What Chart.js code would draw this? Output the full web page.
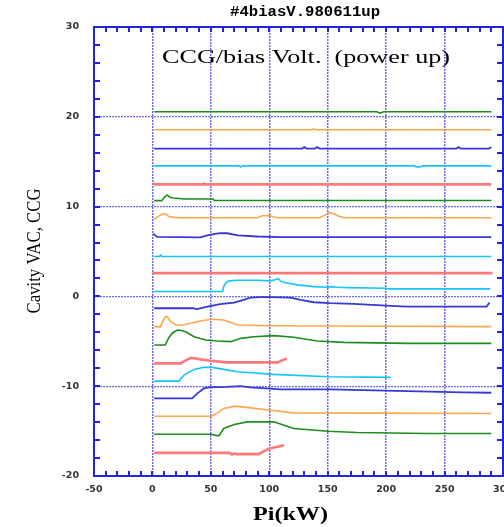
<!DOCTYPE html>
<html><head><meta charset="utf-8">
<script src="https://cdn.jsdelivr.net/npm/chart.js@4.4.0/dist/chart.umd.min.js"></script>
<style>html,body{margin:0;padding:0;background:#fff;overflow:hidden}</style>
</head><body>
<canvas id="c" width="504" height="527"></canvas>
<script>
// ---- texts ----
const titleText = '#4biasV.980611up';
const innerText = 'CCG/bias Volt.  (power up)';
const xLabel = 'Pi(kW)';
const yLabel = 'Cavity VAC, CCG';

// ---- axes ----
const xMin = -50, xMax = 300, xStep = 50, xMinor = 10;
const yMin = -20, yMax = 30, yStep = 10, yMinor = 2;

// ---- series: [Pi(kW), value] pairs, top trace to bottom trace ----
const s01 = [[1.5,20.56],[192,20.56],[195,20.42],[198,20.56],[290,20.56]];
const s02 = [[1.5,18.55],[136,18.55],[138,18.66],[140,18.55],[290,18.55]];
const s03 = [[1.5,16.46],[128,16.46],[130,16.62],[132,16.46],[139,16.46],[141,16.62],[143,16.46],[260,16.46],[262,16.62],[264,16.46],[288,16.46],[290,16.6]];
const s04 = [[1.5,14.53],[74,14.53],[75.5,14.4],[77,14.53],[224,14.53],[226,14.42],[229,14.42],[231,14.53],[290,14.53]];
const s05 = [[0.5,12.62],[2,12.48],[43,12.48],[44,12.56],[45,12.48],[290,12.48]];
const s06 = [[1.5,10.66],[8,10.66],[10,11.0],[12.5,11.3],[15,11.05],[18,10.95],[27,10.85],[52,10.85],[53,10.68],[290,10.68]];
const s07 = [[1.5,8.6],[3,8.75],[6,9.0],[8.5,9.17],[11.5,9.17],[14,8.9],[18.5,8.8],[25,8.76],[90,8.76],[94,8.98],[100,9.02],[104,8.84],[108,8.76],[143,8.76],[147,9.0],[151,9.35],[155,9.2],[159,8.95],[164,8.76],[290,8.76]];
const s08 = [[1,7.0],[2,6.85],[4,6.62],[41,6.58],[47,6.8],[55,7.0],[58,7.05],[64,7.03],[73,6.8],[90,6.67],[110,6.6],[290,6.6]];
const s09 = [[1.5,4.44],[6,4.44],[7,4.6],[8,4.44],[290,4.44]];
const s10 = [[0,2.59],[291,2.59]];
const s11 = [[1.5,0.54],[60,0.54],[61,1.1],[63,1.55],[65.5,1.73],[73,1.8],[90,1.8],[101,1.73],[105,1.85],[107.5,1.98],[110,1.7],[113,1.54],[124,1.28],[138,1.09],[150,1.02],[154,1.09],[158,1.02],[167,0.98],[200,0.9],[201,0.84],[289,0.84]];
const s12 = [[1.5,-1.32],[35,-1.32],[38,-1.42],[40,-1.35],[47,-1.14],[58,-0.87],[70,-0.69],[78,-0.39],[84,-0.13],[92,-0.09],[101,-0.09],[118,-0.13],[127,-0.39],[138,-0.65],[152,-0.76],[172,-0.84],[200,-1.02],[218,-1.14],[286,-1.14],[288.5,-0.69]];
const s13 = [[1.5,-3.37],[7,-3.37],[9,-2.7],[11.5,-2.25],[13,-2.3],[15.6,-2.81],[20,-3.18],[27,-3.15],[41,-2.73],[50,-2.55],[61,-2.62],[67,-2.92],[73,-3.18],[101,-3.26],[200,-3.33],[290,-3.37]];
const s14 = [[1.5,-5.41],[11,-5.41],[14,-4.6],[17,-4.1],[21,-3.78],[23,-3.74],[28.5,-3.93],[35.6,-4.49],[45.6,-4.85],[55.6,-4.97],[67,-5.04],[75.5,-4.67],[87,-4.49],[104,-4.37],[121,-4.55],[141,-4.97],[164,-5.12],[218,-5.23],[290,-5.23]];
const s15 = [[1.5,-7.46],[24,-7.46],[29,-7.1],[33,-6.83],[41,-7.01],[50,-7.16],[64,-7.35],[107,-7.35],[115,-6.9]];
const s16 = [[1.5,-9.43],[22.8,-9.43],[27,-8.76],[35.6,-8.13],[44,-7.9],[51,-7.9],[61,-8.13],[72.6,-8.39],[104,-8.68],[150,-8.95],[204,-9.02]];
const s17 = [[1.5,-11.36],[34,-11.36],[38.5,-10.8],[44,-10.25],[48.4,-10.13],[64,-10.07],[75.5,-9.99],[84,-10.13],[110,-10.36],[152,-10.36],[218,-10.55],[266,-10.69],[290,-10.73]];
const s18 = [[1.5,-13.34],[51,-13.34],[56,-12.95],[61,-12.48],[71,-12.22],[84,-12.41],[101,-12.67],[121,-12.97],[290,-13.04]];
const s19 = [[1.5,-15.35],[51,-15.35],[55,-15.5],[57,-15.5],[61,-14.71],[70,-14.26],[81,-13.97],[104,-13.97],[112.6,-14.34],[121,-14.71],[150,-15.01],[175,-15.16],[235,-15.27],[290,-15.27]];
const s20 = [[1.5,-17.43],[66,-17.43],[68,-17.6],[70,-17.5],[72,-17.56],[91,-17.56],[96,-17.2],[100,-16.94],[107,-16.75],[112.6,-16.57]];

const seriesList = [s01,s02,s03,s04,s05,s06,s07,s08,s09,s10,s11,s12,s13,s14,s15,s16,s17,s18,s19,s20];
const seriesHue  = ['g','o','b','c','r','g','o','b','c','r','c','b','o','g','r','c','b','o','g','r'];

// ---- styles ----
const palette = { g:'#1e8c1e', o:'#ffa64d', b:'#3838d4', c:'#14c4ff', r:'#ff7878' };
const widths  = { g:1.6, o:1.6, b:1.8, c:1.6, r:2.6 };
const frameColor = '#2222e0';
const gridColor = 'rgba(70,70,225,0.8)';

const datasets = seriesList.map((s, i) => ({
  data: s.map(p => ({ x: p[0], y: p[1] })),
  borderColor: palette[seriesHue[i]],
  borderWidth: widths[seriesHue[i]],
  pointRadius: 0,
  tension: 0,
  fill: false
}));

function drawText(ctx, text, font, x, y, targetW, align, rot) {
  ctx.save();
  ctx.font = font;
  ctx.fillStyle = '#000';
  ctx.textBaseline = 'alphabetic';
  ctx.textAlign = 'left';
  const w = ctx.measureText(text).width;
  const sx = targetW ? targetW / w : 1;
  ctx.translate(x, y);
  if (rot) ctx.rotate(rot);
  ctx.scale(sx, 1);
  let ox = 0;
  if (align === 'center') ox = -w / 2;
  ctx.fillText(text, ox, 0);
  ctx.restore();
}

const framePlugin = {
  id: 'frame',
  afterDatasetsDraw(chart) {
    const ctx = chart.ctx;
    const a = chart.chartArea;
    const xs = chart.scales.x, ys = chart.scales.y;
    ctx.save();
    ctx.strokeStyle = frameColor;
    ctx.lineWidth = 2;
    ctx.strokeRect(a.left, a.top, a.right - a.left, a.bottom - a.top);
    ctx.beginPath();
    for (let v = yMin; v <= yMax; v += yMinor) {
      const py = Math.round(ys.getPixelForValue(v));
      ctx.moveTo(a.left, py); ctx.lineTo(a.left + 6, py);
      ctx.moveTo(a.right, py); ctx.lineTo(a.right - 6, py);
    }
    for (let v = xMin; v <= xMax; v += xMinor) {
      const px = Math.round(xs.getPixelForValue(v));
      ctx.moveTo(px, a.bottom); ctx.lineTo(px, a.bottom - 5);
      ctx.moveTo(px, a.top); ctx.lineTo(px, a.top + 5);
    }
    ctx.stroke();
    ctx.restore();
  },
  afterDraw(chart) {
    const ctx = chart.ctx;
    drawText(ctx, titleText, 'bold 14px "Liberation Mono"', 305, 16, 150, 'center', 0);
    drawText(ctx, innerText, '18px "Liberation Serif"', 162, 62.5, 288, 'left', 0);
    drawText(ctx, xLabel, 'bold 18px "Liberation Serif"', 290.5, 520, 75, 'center', 0);
    drawText(ctx, yLabel, '19.5px "Liberation Serif"', 40, 251, 125, 'center', -Math.PI / 2);
  }
};

const edgeless = (lo, hi) => (c) => {
  const v = c.tick ? c.tick.value : null;
  return (v === lo || v === hi) ? 'rgba(0,0,0,0)' : gridColor;
};

new Chart(document.getElementById('c'), {
  type: 'line',
  data: { datasets },
  plugins: [framePlugin],
  options: {
    responsive: false,
    animation: false,
    devicePixelRatio: 1,
    layout: { padding: { top: 27, right: 1, bottom: 0, left: 0 } },
    plugins: { legend: { display: false }, tooltip: { enabled: false }, title: { display: false } },
    scales: {
      x: {
        type: 'linear', min: xMin, max: xMax,
        ticks: { stepSize: xStep, color: '#333', font: { family: 'DejaVu Sans', weight: 'bold', size: 9.5 }, padding: 8, maxRotation: 0, autoSkip: false },
        grid: { color: edgeless(xMin, xMax), lineWidth: 1.5, drawTicks: false },
        border: { display: false, dash: [2, 1] },
        afterFit(s) { s.height = 51; s.paddingLeft = 0; s.paddingRight = 0; }
      },
      y: {
        type: 'linear', min: yMin, max: yMax,
        ticks: { stepSize: yStep, color: '#333', font: { family: 'DejaVu Sans', weight: 'bold', size: 9.5 }, padding: 15 },
        grid: { color: edgeless(yMin, yMax), lineWidth: 1.2, drawTicks: false },
        border: { display: false, dash: [2, 1] },
        afterFit(s) { s.width = 94; s.paddingTop = 0; s.paddingBottom = 0; }
      }
    }
  }
});
</script>
</body></html>
